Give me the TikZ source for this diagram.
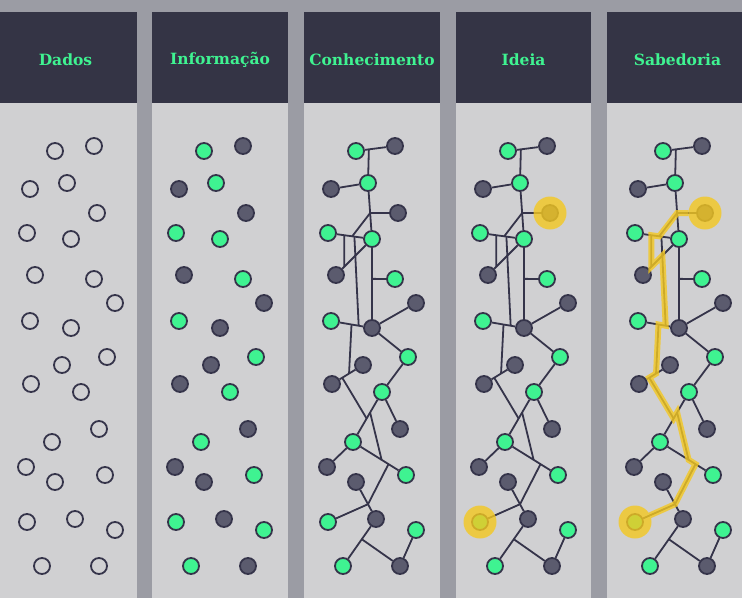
\documentclass[tikz,border=0pt]{standalone}
\usepackage{fontspec}
\setmainfont{DejaVu Serif}
\usetikzlibrary{calc}

\definecolor{canvas}{HTML}{9B9CA4}
\definecolor{paper}{HTML}{D0D0D2}
\definecolor{navy}{HTML}{343445}
\definecolor{leaf}{HTML}{3FF391}
\definecolor{slate}{HTML}{5B5B6E}
\definecolor{ink}{HTML}{35344A}
\definecolor{gold}{HTML}{F4C820}

\pgfdeclarelayer{bg}
\pgfdeclarelayer{edges}
\pgfdeclarelayer{glowlayer}
\pgfsetlayers{bg,edges,main,glowlayer}

\tikzset{
  ball/.style={circle, draw=ink, line width=1.8pt, minimum size=16pt, inner sep=0pt},
  oball/.style={ball},
  gball/.style={ball, fill=leaf},
  dball/.style={ball, fill=slate},
  link/.style={draw=ink, line width=1.8pt},
  glow/.style={circle, fill=gold, opacity=0.8, minimum size=33pt, inner sep=0pt},
  trail/.style={draw=gold, line width=6pt, opacity=0.8, line join=miter},
  coltitle/.style={text=leaf, font=\bfseries\fontsize{15.5}{18}\selectfont}
}

% node number / x / y / colour (same layout in every column)
\newcommand{\spots}{1/55/151/gball, 2/94/146/dball, 3/30/189/dball, 4/67/183/gball,
  5/97/213/dball, 6/27/233/gball, 7/71/239/gball, 8/35/275/dball, 9/94/279/gball,
  10/115/303/dball, 11/30/321/gball, 12/71/328/dball, 13/62/365/dball, 14/107/357/gball,
  15/31/384/dball, 16/81/392/gball, 17/99/429/dball, 18/52/442/gball, 19/26/467/dball,
  20/55/482/dball, 21/105/475/gball, 22/27/522/gball, 23/75/519/dball, 24/115/530/gball,
  25/42/566/gball, 26/99/566/dball}

\begin{document}
\begin{tikzpicture}[x=1pt, y=-1pt]
  \useasboundingbox (0,0) rectangle (742,598);

  % columns and headers
  \begin{pgfonlayer}{bg}
    \fill[canvas] (0,0) rectangle (742,598);
    \foreach \l/\r in {-5/137, 152/288, 304/440, 456/591, 607/747} {
      \fill[paper] (\l,103) rectangle (\r,598);
      \fill[navy] (\l,12) rectangle (\r,103);
    }
  \end{pgfonlayer}
  \node[coltitle] (t1) at (65.5,60) {Dados};
  \node[coltitle] (t2) at (220,60) {Informação};
  \node[coltitle] (t3) at (372,60) {Conhecimento};
  \node[coltitle] (t4) at (523.5,60) {Ideia};
  \node[coltitle] (t5) at (677.5,60) {Sabedoria};

  % dots
  \foreach \i/\x/\y/\s in \spots {
    \node[oball] (a\i) at (\x,\y) {};
  }
  \foreach \cl/\dx in {b/149, c/301, d/453, e/608} {
    \foreach \i/\x/\y/\s in \spots {
      \node[\s] (\cl\i) at (\x+\dx,\y) {};
    }
  }

  % links
  \begin{pgfonlayer}{edges}
    \foreach \cl in {c,d,e} {
      \coordinate (\cl ja) at ($(\cl1)!0.33!(\cl2)$);
      \coordinate (\cl jb) at ($(\cl4)!0.536!(\cl7)$);
      \coordinate (\cl jc) at ($(\cl6)!0.55!(\cl7)$);
      \coordinate (\cl jd) at ($(\cl6)!0.37!(\cl7)$);
      \coordinate (\cl je) at ($(\cl7)!0.77!(\cl8)$);
      \coordinate (\cl jf) at ($(\cl6)!0.6!(\cl7)$);
      \coordinate (\cl jg) at ($(\cl11)!0.675!(\cl12)$);
      \coordinate (\cl jh) at ($(\cl jf)!0.215!(\cl jg)$);
      \coordinate (\cl ji) at ($(\cl7)!0.448!(\cl12)$);
      \coordinate (\cl jj) at ($(\cl11)!0.5!(\cl12)$);
      \coordinate (\cl jk) at ($(\cl15)!0.55!(\cl13)$);
      \coordinate (\cl jl) at ($(\cl15)!0.33!(\cl13)$);
      \coordinate (\cl jm) at ($(\cl16)!0.53!(\cl18)$);
      \coordinate (\cl jn) at ($(\cl16)!0.41!(\cl18)$);
      \coordinate (\cl jo) at ($(\cl18)!0.54!(\cl21)$);
      \coordinate (\cl jp) at ($(\cl18)!0.67!(\cl21)$);
      \coordinate (\cl jq) at ($(\cl20)!0.6!(\cl23)$);
      \coordinate (\cl jr) at ($(\cl23)!0.43!(\cl25)$);
      \draw[link] (\cl1) -- (\cl2);
      \draw[link] (\cl ja) -- (\cl4);
      \draw[link] (\cl3) -- (\cl4);
      \draw[link] (\cl4) -- (\cl7);
      \draw[link] (\cl jb) -- (\cl5);
      \draw[link] (\cl jb) -- (\cl jc);
      \draw[link] (\cl6) -- (\cl7);
      \draw[link] (\cl7) -- (\cl8);
      \draw[link] (\cl jd) -- (\cl je);
      \draw[link] (\cl jf) -- (\cl jg);
      \draw[link] (\cl7) -- (\cl12);
      \draw[link] (\cl ji) -- (\cl9);
      \draw[link] (\cl12) -- (\cl10);
      \draw[link] (\cl12) -- (\cl14);
      \draw[link] (\cl11) -- (\cl12);
      \draw[link] (\cl jj) -- (\cl jk);
      \draw[link] (\cl13) -- (\cl15);
      \draw[link] (\cl14) -- (\cl16);
      \draw[link] (\cl16) -- (\cl17);
      \draw[link] (\cl16) -- (\cl18);
      \draw[link] (\cl jl) -- (\cl jm);
      \draw[link] (\cl jn) -- (\cl jo);
      \draw[link] (\cl18) -- (\cl21);
      \draw[link] (\cl18) -- (\cl19);
      \draw[link] (\cl jp) -- (\cl jq);
      \draw[link] (\cl20) -- (\cl23);
      \draw[link] (\cl22) -- (\cl jq);
      \draw[link] (\cl23) -- (\cl25);
      \draw[link] (\cl jr) -- (\cl26);
      \draw[link] (\cl26) -- (\cl24);
    }
  \end{pgfonlayer}

  % idea and wisdom highlights
  \begin{pgfonlayer}{glowlayer}
    \node[glow] (dg5) at (d5) {};
    \node[glow] (dg22) at (d22) {};
    \node[glow] (eg5) at (e5) {};
    \node[glow] (eg22) at (e22) {};
    \draw[trail, shorten <=16.3pt, shorten >=16.3pt] (e5.center) -- (ejb) -- (ejc) -- (ejd)
      -- (eje) -- (ejh) -- (ejg) -- (ejj) -- (ejk) -- (ejl) -- (ejm) -- (ejn)
      -- (ejo) -- (ejp) -- (ejq) -- (e22.center);
  \end{pgfonlayer}
\end{tikzpicture}
\end{document}
